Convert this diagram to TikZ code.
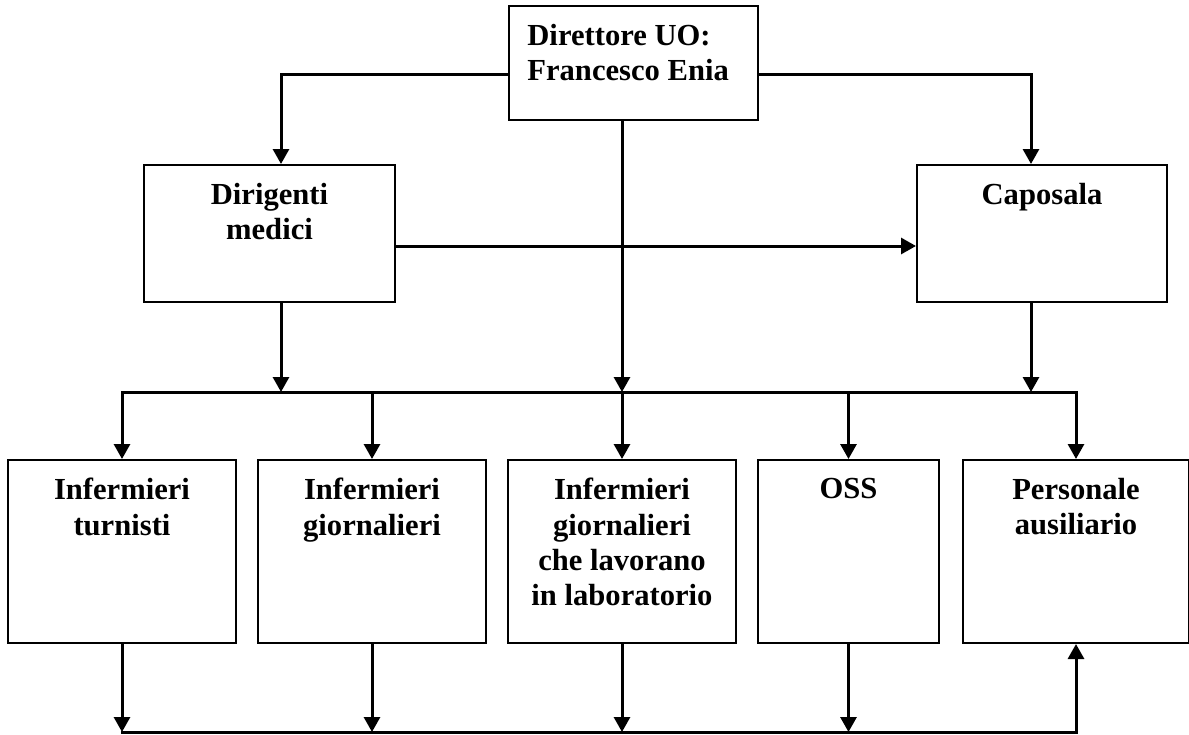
\documentclass[tikz,border=0pt]{standalone}
\usepackage{fontspec}
\setmainfont{Liberation Serif}
\usetikzlibrary{arrows.meta,calc}
\begin{document}
\begin{tikzpicture}[x=0.5pt, y=-0.5pt,
  unit/.style={draw, line width=1pt, inner sep=0pt, anchor=north west},
  lbl/.style={anchor=north, inner sep=0pt, align=center, yshift=-9.5pt,
    font=\bfseries\fontsize{15.3pt}{17.6pt}\selectfont},
  link/.style={line width=1.5pt},
  arr/.style={link, -{Triangle[width=8pt,length=7.5pt]}}]
  \useasboundingbox (0,0) rectangle (1189,734);
  % Top level
  \node[unit, minimum width=124.5pt, minimum height=57pt,
    label={[lbl, anchor=north west, align=left, xshift=9.5pt]north west:Direttore UO:\\Francesco Enia}]
    (direttore) at (508,5) {};
  % Second level
  \node[unit, minimum width=125.5pt, minimum height=68.5pt,
    label={[lbl]north:Dirigenti\\medici}] (dirigenti) at (143,164) {};
  \node[unit, minimum width=125pt, minimum height=68.5pt,
    label={[lbl]north:Caposala}] (caposala) at (916,164) {};
  % Staff boxes
  \foreach \nm/\x/\w/\txt in {turnisti/7/114pt/{Infermieri\\turnisti},
      giornalieri/257/114pt/{Infermieri\\giornalieri},
      lab/507/114pt/{Infermieri\\giornalieri\\che lavorano\\in laboratorio},
      oss/757/90.5pt/{OSS},
      ausiliario/962/113pt/{Personale\\ausiliario}} {
    \node[unit, minimum width=\w, minimum height=91.5pt,
      label={[lbl]north:\txt}] (\nm) at (\x,459) {};
  }
  % Bus lines
  \coordinate (bus) at (0,392);
  \coordinate (low) at (0,732);
  % Top connections
  \draw[arr] ($(direttore.west)+(0,11)$) -| ($(dirigenti.north)+(11.5,0)$);
  \draw[arr] ($(direttore.east)+(0,11)$) -| ($(caposala.north)+(-11,0)$);
  \coordinate (dc) at ($(dirigenti.east)+(0,12.5)$);
  \draw[arr] (dc) -- (dc -| caposala.west);
  % Down to the bus
  \coordinate (dirb) at ($(dirigenti.south)+(11.5,0)$);
  \coordinate (dirt) at ($(direttore.south)+(-11.5,0)$);
  \coordinate (capb) at ($(caposala.south)+(-11,0)$);
  \foreach \c in {dirb,dirt,capb}
    \draw[arr] (\c) -- (\c |- bus);
  \draw[link, line cap=rect] (turnisti.north |- bus) -- (ausiliario.north |- bus);
  \foreach \b in {turnisti,giornalieri,lab,oss,ausiliario}
    \draw[arr] (\b.north |- bus) -- (\b.north);
  % Bottom line
  \draw[link, line cap=rect] (turnisti.south |- low) -- (ausiliario.south |- low);
  \foreach \b in {turnisti,giornalieri,lab,oss}
    \draw[arr] (\b.south) -- (\b.south |- low);
  \draw[arr] (ausiliario.south |- low) -- (ausiliario.south);
\end{tikzpicture}
\end{document}
